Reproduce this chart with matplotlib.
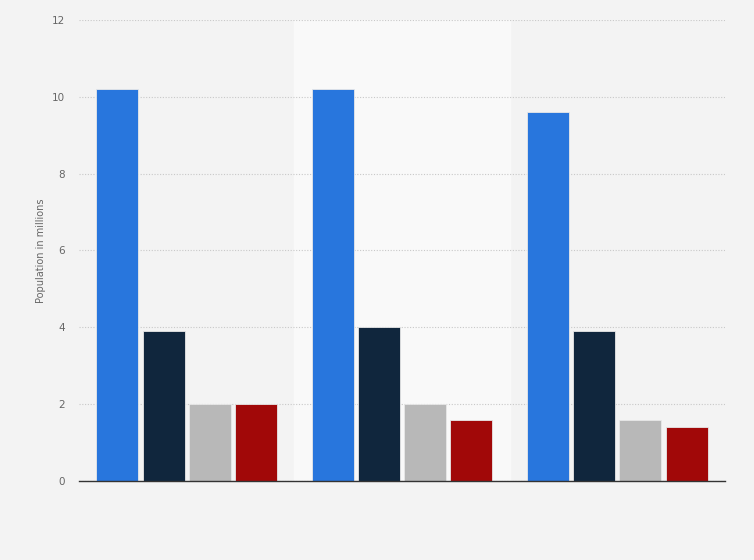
import numpy as np
import matplotlib.pyplot as plt

# data (population in millions)
groups = ['', '', '']
series_a = [10.2, 10.2, 9.6]
series_b = [3.9, 4.0, 3.9]
series_c = [2.0, 2.0, 1.6]
series_d = [2.0, 1.6, 1.4]
colors = ['#2876dd', '#10263d', '#b8b8b8', '#a10808']
yticks = [0, 2, 4, 6, 8, 10, 12]

fig = plt.figure(figsize=(7.54, 5.6), dpi=100)
fig.patch.set_facecolor('#f3f3f3')
ax = fig.add_axes([0.1048, 0.1411, 0.8567, 0.8232])
ax.set_facecolor('#f3f3f3')

x = np.arange(len(groups))
width = 0.195
step = 0.215
all_series = [series_a, series_b, series_c, series_d]
for i, (vals, col) in enumerate(zip(all_series, colors)):
    offset = (i - 1.5) * step
    ax.bar(x + offset, vals, width, color=col, edgecolor='#e8e8e8',
           linewidth=0.6, zorder=3)

# lighter band behind the middle group
ax.axvspan(0.5, 1.5, color='#f9f9f9', zorder=0)

ax.set_xlim(-0.5, 2.5)
ax.set_ylim(0, 12)
ax.set_yticks(yticks)
ax.set_yticklabels([str(t) for t in yticks], color='#666666', fontsize=7.5)
ax.set_xticks([])
ax.tick_params(axis='y', length=0, pad=10)

ax.grid(axis='y', color='#c8c8c8', linestyle=(0, (1, 1.5)), linewidth=0.8, zorder=1)
for s in ['top', 'right', 'left']:
    ax.spines[s].set_visible(False)
ax.spines['bottom'].set_color('#333333')
ax.spines['bottom'].set_linewidth(1)
ax.spines['bottom'].set_zorder(4)

ax.set_ylabel('Population in millions', color='#666666', fontsize=7, labelpad=4.5)

fig.savefig('out.png', dpi=100, facecolor=fig.get_facecolor())
